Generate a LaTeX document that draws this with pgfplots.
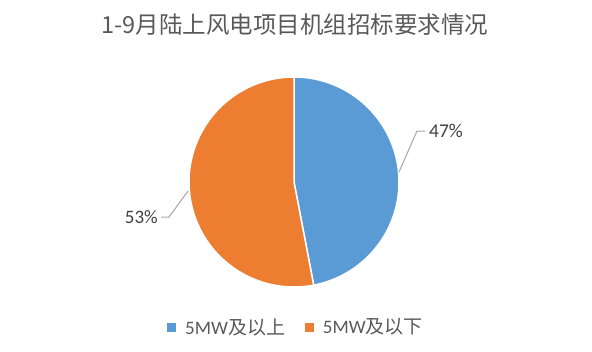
\documentclass[border=0pt]{standalone}
\usepackage{pgfplots}
\pgfplotsset{compat=1.18}
\usepackage{pgfplotstable}
\usepackage{fontspec}
\setmainfont{Carlito}
\newfontfamily\cjk{Noto Sans CJK SC}
\definecolor{pieblue}{HTML}{5B9BD5}
\definecolor{pieorange}{HTML}{ED7D31}
\definecolor{titlegray}{HTML}{595959}
\definecolor{labelgray}{HTML}{404040}
\definecolor{linegray}{HTML}{A6A6A6}
\pgfplotstableread{
label value
above 47
below 53
}\piedata
\begin{document}
\pgfplotstablegetelem{0}{value}\of\piedata \edef\va{\pgfplotsretval}%
\pgfplotstablegetelem{1}{value}\of\piedata \edef\vb{\pgfplotsretval}%
\pgfmathsetmacro\angA{\va/(\va+\vb)*360}%
\begin{tikzpicture}
\begin{axis}[
  width=592bp, height=352bp, scale only axis,
  xmin=0, xmax=592, ymin=0, ymax=352, y dir=reverse,
  hide axis, clip=false,
  legend style={at={(0.5,0.071)}, anchor=center, draw=none, fill=none,
    legend columns=-1, font=\fontsize{19bp}{22bp}\selectfont, text=titlegray,
    /tikz/every even column/.append style={column sep=18bp},
    /tikz/every odd column/.append style={column sep=2bp}},
  legend image code/.code={\fill[#1,draw=none] (0bp,-4.5bp) rectangle (9bp,4.5bp);},
]
\addplot[draw=none, forget plot] coordinates {(0,0) (592,352)};
\addplot[fill=pieblue, draw=white, line width=1.5bp, domain=0:\angA, samples=120]
  ({294+105*sin(x)},{182-105*cos(x)}) -- (axis cs:294,182) -- cycle;
\addlegendentry{\hspace{5bp}5MW{\cjk 及以上}}
\addplot[fill=pieorange, draw=white, line width=1.5bp, domain=\angA:360, samples=120]
  ({294+105*sin(x)},{182-105*cos(x)}) -- (axis cs:294,182) -- cycle;
\addlegendentry{\hspace{5bp}5MW{\cjk 及以下}}
\addplot[draw=linegray, line width=1bp, forget plot] coordinates {(161,217) (169,217) (188,191)};
\addplot[draw=linegray, line width=1bp, forget plot] coordinates {(425,131) (417,131) (399,172)};
\node[anchor=east, inner sep=0pt, text=labelgray, font=\fontsize{19bp}{22bp}\selectfont] at (axis cs:158,217) {53\%};
\node[anchor=west, inner sep=0pt, text=labelgray, font=\fontsize{19.5bp}{22bp}\selectfont] at (axis cs:429,131) {47\%};
\node[text=titlegray, font=\fontsize{23.5bp}{28bp}\selectfont\cjk] at (axis cs:295,25) {1-9月陆上风电项目机组招标要求情况};
\end{axis}
\end{tikzpicture}
\end{document}
